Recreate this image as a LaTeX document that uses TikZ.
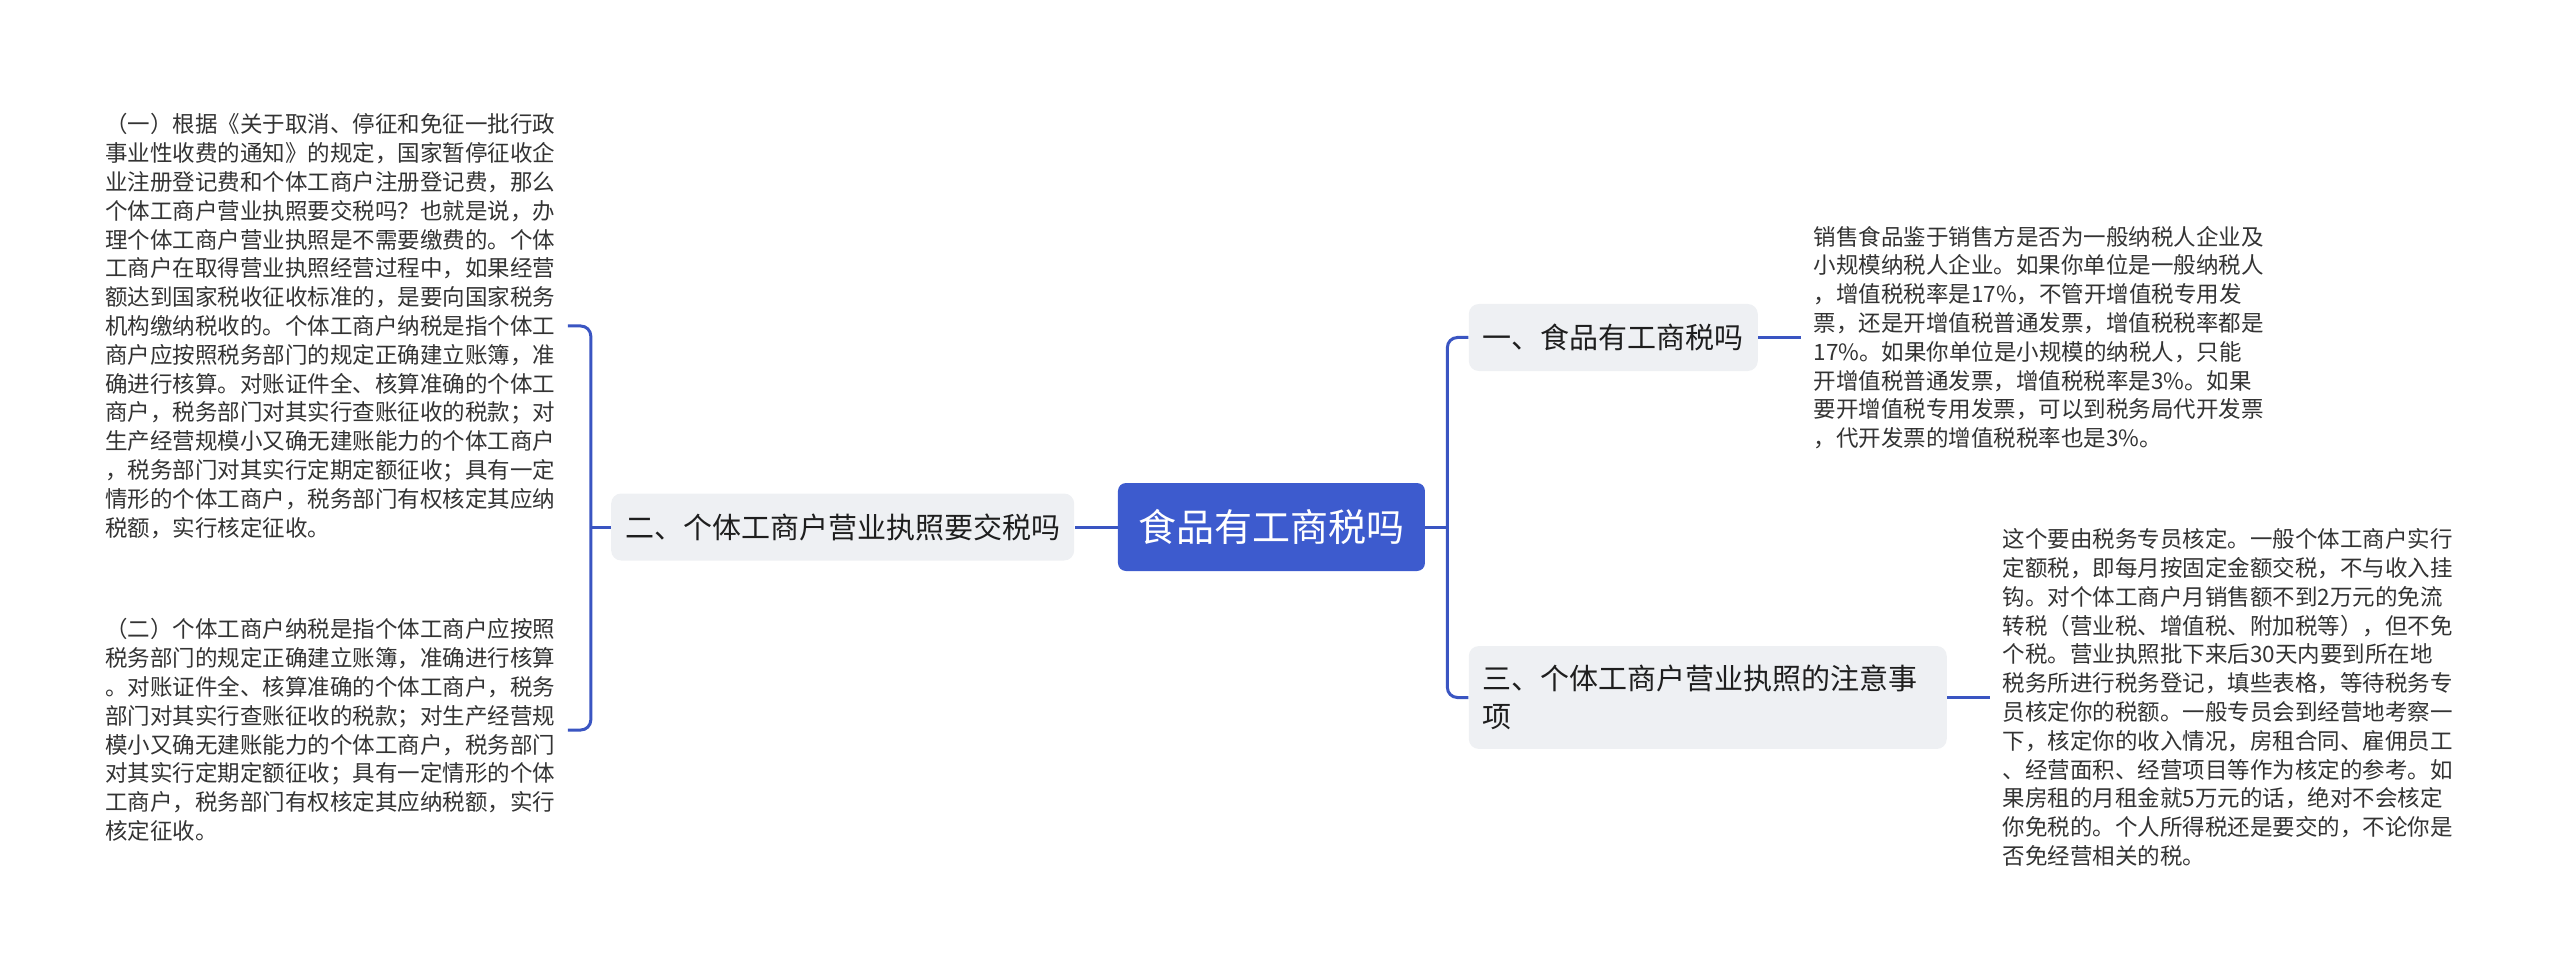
\documentclass[tikz,border=0pt]{standalone}
\usepackage{fontspec}
\setmainfont{Noto Sans CJK SC}
\usepackage{xcolor}
\usepackage{tikz}
\usetikzlibrary{positioning, calc}

\definecolor{rootblue}{HTML}{3D5BCE}
\definecolor{linkblue}{HTML}{3A55C2}
\definecolor{branchgray}{HTML}{EEF0F3}
\definecolor{branchtext}{HTML}{1E1E1E}
\definecolor{leaftext}{HTML}{333333}

\begin{document}
\begin{tikzpicture}[
    node distance=21.5pt,
    root/.style={rectangle, rounded corners=4pt, fill=rootblue, text=white, font=\fontsize{19pt}{23pt}\selectfont, minimum width=153.5pt, minimum height=44pt},
    branch/.style={rectangle, rounded corners=5pt, fill=branchgray, text=branchtext, font=\fontsize{14.5pt}{19pt}\selectfont, inner xsep=7pt, inner ysep=9.5pt, minimum height=33.5pt, align=left},
    leaf/.style={inner sep=6pt, align=left, text=leaftext, font=\fontsize{11.25pt}{14.4pt}\selectfont},
    link/.style={draw=linkblue, line width=1.5pt, rounded corners=5pt}
]
\useasboundingbox (-635.75pt,-226.5pt) rectangle (644.25pt,263.5pt);

% Root
\node[root] (root) at (0,0) {食品有工商税吗};

% Branches
\node[branch, right=of root, yshift=94.75pt] (b1) {一、食品有工商税吗};
\node[branch, left=of root] (b2) {二、个体工商户营业执照要交税吗};
\node[branch, right=of root, yshift=-85.25pt, text width=225pt] (b3) {三、个体工商户营业执照的注意事\\项};

% Leaves
\node[leaf, right=of b1] (t1) {销售食品鉴于销售方是否为一般纳税人企业及\\
小规模纳税人企业。如果你单位是一般纳税人\\
，增值税税率是17\%，不管开增值税专用发\\
票，还是开增值税普通发票，增值税税率都是\\
17\%。如果你单位是小规模的纳税人，只能\\
开增值税普通发票，增值税税率是3\%。如果\\
要开增值税专用发票，可以到税务局代开发票\\
，代开发票的增值税税率也是3\%。};

\node[leaf, right=of b3] (t3) {这个要由税务专员核定。一般个体工商户实行\\
定额税，即每月按固定金额交税，不与收入挂\\
钩。对个体工商户月销售额不到2万元的免流\\
转税（营业税、增值税、附加税等），但不免\\
个税。营业执照批下来后30天内要到所在地\\
税务所进行税务登记，填些表格，等待税务专\\
员核定你的税额。一般专员会到经营地考察一\\
下，核定你的收入情况，房租合同、雇佣员工\\
、经营面积、经营项目等作为核定的参考。如\\
果房租的月租金就5万元的话，绝对不会核定\\
你免税的。个人所得税还是要交的，不论你是\\
否免经营相关的税。};

\node[leaf, left=of b2, yshift=100.5pt] (l1) {（一）根据《关于取消、停征和免征一批行政\\
事业性收费的通知》的规定，国家暂停征收企\\
业注册登记费和个体工商户注册登记费，那么\\
个体工商户营业执照要交税吗？也就是说，办\\
理个体工商户营业执照是不需要缴费的。个体\\
工商户在取得营业执照经营过程中，如果经营\\
额达到国家税收征收标准的，是要向国家税务\\
机构缴纳税收的。个体工商户纳税是指个体工\\
商户应按照税务部门的规定正确建立账簿，准\\
确进行核算。对账证件全、核算准确的个体工\\
商户，税务部门对其实行查账征收的税款；对\\
生产经营规模小又确无建账能力的个体工商户\\
，税务部门对其实行定期定额征收；具有一定\\
情形的个体工商户，税务部门有权核定其应纳\\
税额，实行核定征收。};

\node[leaf, left=of b2, yshift=-101.5pt] (l2) {（二）个体工商户纳税是指个体工商户应按照\\
税务部门的规定正确建立账簿，准确进行核算\\
。对账证件全、核算准确的个体工商户，税务\\
部门对其实行查账征收的税款；对生产经营规\\
模小又确无建账能力的个体工商户，税务部门\\
对其实行定期定额征收；具有一定情形的个体\\
工商户，税务部门有权核定其应纳税额，实行\\
核定征收。};

% Links
\draw[link] (root.east) -- ++(11pt,0);
\draw[link] (b1.west) -| ($(root.east)+(11pt,0)$) |- (b3.west);
\draw[link] (root.west) -- (b2.east);
\draw[link] (b2.west) -- ++(-10pt,0);
\draw[link] (l1.east) -| ($(b2.west)+(-10pt,0)$) |- (l2.east);
\draw[link] (b1.east) -- (b1.east -| t1.west);
\draw[link] (b3.east) -- (b3.east -| t3.west);

\end{tikzpicture}
\end{document}
